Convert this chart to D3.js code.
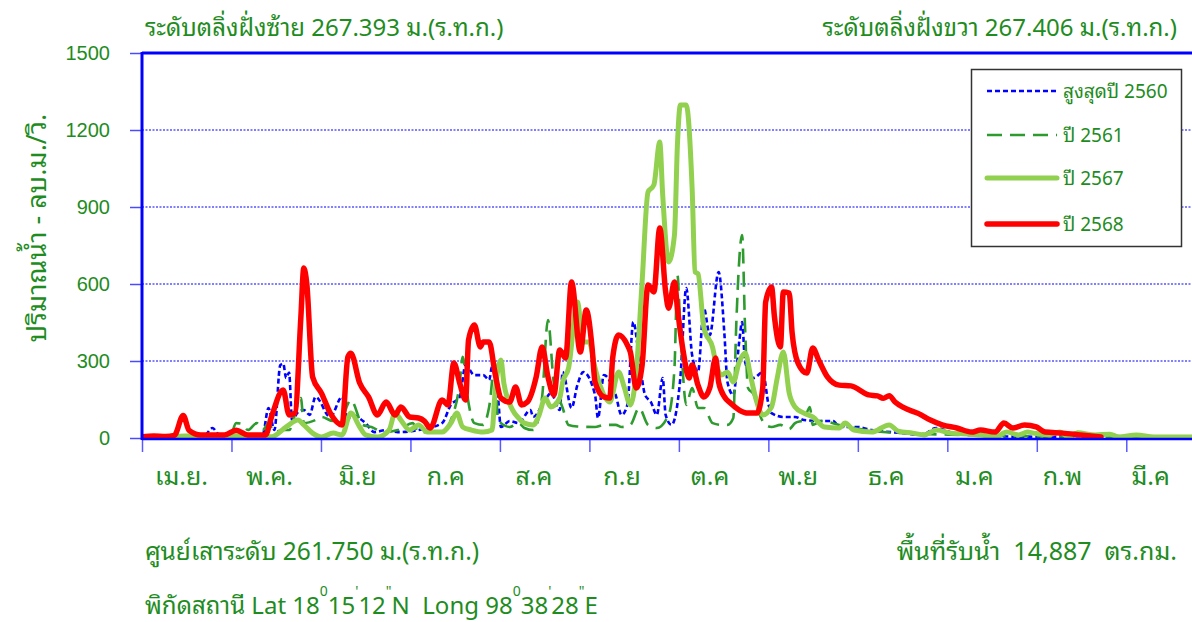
<!DOCTYPE html>
<html><head><meta charset="utf-8">
<script src="https://cdn.jsdelivr.net/npm/d3@7"></script>
<style>
body{margin:0;background:#fff;}
svg{display:block;font-family:Tahoma,"Noto Sans Thai Looped","Noto Sans Thai","Noto Sans","DejaVu Sans",sans-serif;}
</style></head><body><svg id="c" width="1192" height="622"></svg>
<script>
// ---- data (day index from 1 April, discharge m3/s) ----
const months = ["เม.ย.","พ.ค.","มิ.ย","ก.ค","ส.ค","ก.ย","ต.ค","พ.ย","ธ.ค","ม.ค","ก.พ","มี.ค"];
const yTicks = [0,300,600,900,1200,1500];
const seriesNames = ["สูงสุดปี 2560","ปี 2561","ปี 2567","ปี 2568"];

const max2560 = [[0,5],[13,5],[21,8],[24,39],[26,15],[33,10],[41,12],[43,117],[45,31],[47,284],[48,290],[49,234],[50,255],[51,70],[53,100],[55,109],[57,90],[59,160],[64,82],[68,160],[70,70],[71,90],[76,58],[79,23],[83,31],[87,23],[94,31],[102,58],[105,129],[108,160],[110,284],[113,245],[116,245],[118,226],[119,277],[121,160],[122,43],[125,66],[128,58],[132,109],[133,82],[137,148],[139,175],[142,109],[143,257],[146,117],[148,206],[150,257],[154,168],[155,78],[157,245],[161,168],[163,90],[165,129],[167,452],[169,312],[171,168],[173,140],[175,90],[177,234],[178,90],[180,51],[183,234],[185,584],[187,323],[189,257],[191,506],[193,401],[196,647],[198,401],[199,218],[201,168],[203,374],[204,452],[205,296],[208,234],[211,257],[213,129],[214,97],[218,82],[222,82],[225,70],[231,66],[235,66],[237,43],[243,43],[248,31],[259,19],[265,12],[270,39],[276,19],[285,12],[291,6],[308,5],[329,10],[336,4],[365,3]];

const y2561 = [[0,5],[13,5],[30,8],[32,58],[34,55],[36,31],[39,58],[41,31],[43,58],[45,23],[48,31],[50,31],[54,156],[55,58],[59,70],[61,82],[65,66],[68,82],[71,148],[75,51],[78,43],[82,23],[87,31],[92,58],[94,23],[98,23],[102,23],[105,70],[108,214],[109,316],[111,136],[113,58],[116,51],[118,121],[120,292],[121,70],[125,43],[128,58],[130,39],[133,31],[136,160],[138,460],[140,214],[142,148],[143,117],[145,51],[148,45],[154,43],[157,51],[161,51],[163,43],[166,51],[169,117],[172,51],[175,39],[179,90],[181,273],[182,635],[183,429],[185,129],[187,195],[189,117],[191,117],[194,58],[197,51],[199,51],[201,78],[202,440],[204,791],[205,429],[206,195],[208,168],[210,90],[212,51],[214,43],[217,51],[220,35],[222,58],[225,70],[227,121],[228,51],[231,66],[237,51],[244,35],[250,25],[257,20],[268,15],[278,12],[291,8],[325,5],[365,3]];

const y2567 = [[0,4],[11,6],[20,10],[30,10],[40,5],[44,5],[49,43],[53,70],[55,51],[58,19],[61,4],[65,19],[68,12],[71,97],[74,43],[76,12],[80,4],[84,31],[86,97],[88,70],[91,31],[94,51],[97,23],[102,23],[105,58],[107,97],[109,43],[112,31],[116,23],[119,31],[120,175],[122,304],[123,214],[126,109],[128,78],[130,58],[133,51],[135,90],[137,156],[139,121],[142,156],[143,218],[145,273],[148,530],[150,374],[152,374],[154,273],[156,195],[159,140],[162,257],[164,195],[166,129],[168,257],[170,608],[172,958],[174,986],[176,1153],[177,947],[179,686],[181,791],[182,1141],[183,1297],[185,1297],[187,974],[188,647],[189,640],[191,429],[194,351],[195,296],[197,245],[199,257],[201,218],[203,296],[205,331],[207,234],[209,140],[211,90],[214,121],[216,238],[218,335],[220,175],[222,121],[225,97],[228,82],[232,43],[237,39],[239,58],[242,31],[248,23],[254,51],[257,27],[262,19],[266,12],[270,31],[275,19],[282,15],[285,12],[290,4],[294,23],[298,12],[301,23],[303,19],[308,12],[312,23],[315,4],[318,20],[324,12],[329,15],[332,4],[338,12],[344,4],[365,4]];

const y2568 = [[0,5],[4,8],[8,6],[11,10],[14,88],[16,30],[20,12],[28,12],[32,30],[36,12],[42,12],[44,82],[48,187],[50,90],[52,97],[54,470],[55,662],[56,603],[58,238],[61,175],[64,97],[68,51],[70,316],[71,330],[74,214],[77,160],[80,90],[83,140],[86,90],[88,121],[91,82],[94,78],[96,66],[98,39],[102,148],[104,129],[106,292],[108,214],[110,148],[111,382],[113,440],[115,355],[116,374],[118,374],[120,253],[122,156],[125,140],[127,199],[129,129],[131,140],[134,238],[136,355],[138,238],[140,168],[142,343],[144,312],[146,608],[149,335],[151,499],[153,351],[154,218],[157,160],[159,156],[160,312],[162,401],[165,362],[166,335],[168,195],[170,284],[172,596],[174,569],[176,818],[178,569],[179,506],[181,608],[182,506],[184,335],[186,234],[187,284],[189,206],[191,160],[193,195],[195,312],[196,218],[198,160],[200,136],[203,109],[206,97],[209,97],[211,195],[212,530],[214,588],[215,471],[217,355],[218,569],[220,565],[221,409],[223,292],[226,253],[228,351],[230,304],[233,238],[237,206],[241,203],[247,168],[250,164],[252,155],[254,165],[256,140],[259,118],[264,95],[268,70],[272,51],[277,39],[282,23],[285,31],[290,23],[293,58],[296,39],[300,51],[304,43],[307,23],[313,19],[319,12],[326,4]];

const seriesData = [max2560, y2561, y2567, y2568];
const seriesColors = ["#0000ff","#2e9b2e","#92d050","#ff0000"];
const seriesWidths = [2.6,2.6,5,5.5];
const seriesDash = ["5,3","15,8",null,null];

// ---- layout ----
const green = "#1e8c1e";
const svg = d3.select("#c");
const pL = 142, pT = 53, pB = 438, monthW = 89.48;
const x = d3.scaleLinear().domain([0,365]).range([pL, pL + 12*monthW]);
const y = d3.scaleLinear().domain([0,1500]).range([pB, pT]);
const xLab = d3.scaleBand().domain(months).range([137.5, 137.5 + 12*88.1]);

// gridlines
svg.append("g").selectAll("line").data(yTicks.filter(v=>v>0 && v<1500)).join("line")
  .attr("x1", pL).attr("x2", 1192).attr("y1", d=>y(d)).attr("y2", d=>y(d))
  .attr("stroke","#0000ff").attr("stroke-width",1).attr("stroke-dasharray","2,1.5");

// y axis
const ya = svg.append("g").attr("transform",`translate(${pL},0)`)
  .call(d3.axisLeft(y).tickValues(yTicks).tickSize(12).tickPadding(20).tickFormat(d3.format("d")));
ya.select(".domain").remove();
ya.selectAll(".tick line").attr("stroke","#4a4aff").attr("stroke-width",1.5);
ya.selectAll(".tick text").attr("fill",green).attr("font-size",20).attr("font-family","inherit");

// x axis ticks
const monthStarts = d3.range(12).map(i => i*365/12);
const xa = svg.append("g").attr("transform",`translate(0,${pB})`)
  .call(d3.axisBottom(x).tickValues(monthStarts).tickSize(14).tickFormat(""));
xa.select(".domain").remove();
xa.selectAll(".tick line").attr("stroke","#5a5aff").attr("stroke-width",1.5);

// month labels
svg.append("g").selectAll("text").data(months).join("text")
  .attr("x", d=>xLab(d)+xLab.bandwidth()/2).attr("y", 485)
  .attr("text-anchor","middle").attr("fill",green).attr("font-size",25).text(d=>d);

// series lines
const line = d3.line().x(d=>x(d[0])).y(d=>y(d[1])).curve(d3.curveMonotoneX);
svg.append("clipPath").attr("id","pc").append("rect")
  .attr("x",pL).attr("y",pT-10).attr("width",1192-pL).attr("height",pB-pT+12);
const lg = svg.append("g").attr("clip-path","url(#pc)");
seriesData.forEach((s,i)=>{
  lg.append("path").datum(s).attr("d",line).attr("fill","none")
    .attr("stroke",seriesColors[i]).attr("stroke-width",seriesWidths[i])
    .attr("stroke-linejoin","round").attr("stroke-linecap", seriesDash[i]?"butt":"round")
    .attr("stroke-dasharray",seriesDash[i]);
});

// frame: left axis, top border, baseline
svg.append("line").attr("x1",pL).attr("x2",pL).attr("y1",pT-1).attr("y2",pB+2)
  .attr("stroke","#0000ff").attr("stroke-width",3);
svg.append("line").attr("x1",pL).attr("x2",1192).attr("y1",pT).attr("y2",pT)
  .attr("stroke","#0000ff").attr("stroke-width",3);
svg.append("line").attr("x1",pL).attr("x2",1192).attr("y1",pB+1).attr("y2",pB+1)
  .attr("stroke","#0000ff").attr("stroke-width",2.5);

// legend
const leg = svg.append("g");
leg.append("rect").attr("x",971.5).attr("y",69.5).attr("width",210).attr("height",177)
  .attr("fill","#fff").attr("stroke","#333").attr("stroke-width",1.5);
const legY = [91,135,178,224];
seriesNames.forEach((n,i)=>{
  leg.append("line").attr("x1",987).attr("x2",1057).attr("y1",legY[i]).attr("y2",legY[i])
    .attr("stroke",seriesColors[i]).attr("stroke-width",seriesWidths[i])
    .attr("stroke-dasharray",seriesDash[i]).attr("stroke-linecap",seriesDash[i]?"butt":"round");
  leg.append("text").attr("x",1063).attr("y",legY[i]+7).attr("fill",green)
    .attr("font-size",19).text(n);
});

// titles / annotations
svg.append("text").attr("x",145).attr("y",36).attr("fill",green).attr("font-size",24)
  .text("ระดับตลิ่งฝั่งซ้าย 267.393 ม.(ร.ท.ก.)");
svg.append("text").attr("x",1177).attr("y",36).attr("text-anchor","end").attr("fill",green).attr("font-size",24)
  .text("ระดับตลิ่งฝั่งขวา 267.406 ม.(ร.ท.ก.)");
svg.append("text").attr("transform","translate(46,228) rotate(-90)").attr("text-anchor","middle")
  .attr("fill",green).attr("font-size",27).text("ปริมาณน้ำ - ลบ.ม./วิ.");
svg.append("text").attr("x",145).attr("y",560).attr("fill",green).attr("font-size",24.5)
  .text("ศูนย์เสาระดับ 261.750 ม.(ร.ท.ก.)");
svg.append("text").attr("x",1177).attr("y",560).attr("text-anchor","end").attr("fill",green).attr("font-size",25)
  .attr("xml:space","preserve").text("พื้นที่รับน้ำ  14,887  ตร.กม.");

const coord = svg.append("text").attr("x",145).attr("y",614).attr("fill",green).attr("font-size",24)
  .attr("xml:space","preserve");
const parts = [["พิกัดสถานี Lat 18",0],["0",1],["15",0],["'",1],["12",0],["\"",1],["N  Long 98",0],["0",1],["38",0],["'",1],["28",0],["\"",1],["E",0]];
let prevSup = 0;
parts.forEach(p=>{
  const t = coord.append("tspan").text(p[0]);
  if (p[1] && !prevSup) t.attr("dy",-18).attr("font-size",14);
  else if (p[1]) t.attr("font-size",14);
  if (!p[1] && prevSup) t.attr("dy",18);
  prevSup = p[1];
});
</script></body></html>
